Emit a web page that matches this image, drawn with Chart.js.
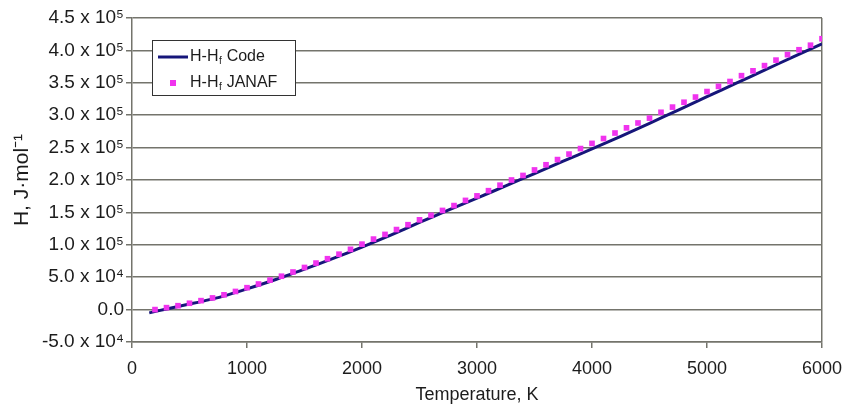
<!DOCTYPE html>
<html>
<head>
<meta charset="utf-8">
<script src="https://cdn.jsdelivr.net/npm/chart.js@4/dist/chart.umd.min.js"></script>
<style>
    html, body { margin: 0; padding: 0; background: #ffffff; }
    #wrap { width: 843px; height: 406px; position: relative; }
</style>
</head>
<body>
<div id="wrap"><canvas id="enthalpyChart" width="843" height="406"></canvas></div>
<script>
// Temperature (K) for the code curve and its enthalpy (J/mol)
const codeTemps = [150, 300, 500, 750, 1000, 1250, 1500, 1750, 2000, 2250, 2500, 2750, 3000,
    3250, 3500, 3750, 4000, 4250, 4500, 4750, 5000, 5250, 5500, 5750, 6000];
const codeH = [-5000, 1000, 8500, 18500, 32000, 46500, 62500, 79000, 96500, 115000, 134500, 153500, 172000,
    191000, 210000, 229000, 248000, 267500, 287500, 308000, 328500, 349000, 369500, 390000, 410000];

// JANAF table points
const janafTemps = [200, 300, 400, 500, 600, 700, 800, 900, 1000, 1100, 1200, 1300, 1400, 1500, 1600, 1700,
    1800, 1900, 2000, 2100, 2200, 2300, 2400, 2500, 2600, 2700, 2800, 2900, 3000, 3100, 3200, 3300, 3400,
    3500, 3600, 3700, 3800, 3900, 4000, 4100, 4200, 4300, 4400, 4500, 4600, 4700, 4800, 4900, 5000, 5100,
    5200, 5300, 5400, 5500, 5600, 5700, 5800, 5900, 6000];
const janafH = [0, 3000, 6000, 9800, 13800, 18000, 22800, 28000, 33800, 39500, 45500, 51500, 58000, 65000,
    71800, 78500, 85500, 93000, 101000, 108800, 116000, 123500, 131000, 138500, 145500, 153000, 160500,
    168500, 175500, 183500, 192000, 200000, 207000, 215500, 223500, 231500, 240000, 248500, 256500, 264000,
    272500, 280500, 288000, 295500, 304500, 312500, 320000, 328000, 336500, 344500, 352000, 361000, 368500,
    376500, 385000, 393500, 401000, 408000, 418000];

// Axis tick labels as printed
const yTickLabels = {
    '-50000': '-5.0 x 10\u2074',
    '0': '0.0',
    '50000': '5.0 x 10\u2074',
    '100000': '1.0 x 10\u2075',
    '150000': '1.5 x 10\u2075',
    '200000': '2.0 x 10\u2075',
    '250000': '2.5 x 10\u2075',
    '300000': '3.0 x 10\u2075',
    '350000': '3.5 x 10\u2075',
    '400000': '4.0 x 10\u2075',
    '450000': '4.5 x 10\u2075',
};
const xTitle = 'Temperature, K';
const yTitle = 'H, J\u00b7mol\u207b\u00b9';
const seriesNames = ['Code', 'JANAF'];

const FONT = "'Liberation Sans', Arial, sans-serif";
const TEXT = '#1c1c1c';
const GRID = '#74746c';
const LINE_COLOR = '#16167a';
const MARK_COLOR = '#f033ee';

const toPoints = (xs, ys) => xs.map((x, i) => ({ x, y: ys[i] }));

// Legend with the subscript f, drawn on the canvas
const legendPlugin = {
    id: 'subscriptLegend',
    afterDatasetsDraw(chart) {
        const ctx = chart.ctx;
        const box = { x: 152.5, y: 40.5, w: 143, h: 55 };
        ctx.save();
        ctx.fillStyle = '#ffffff';
        ctx.fillRect(box.x, box.y, box.w, box.h);
        ctx.strokeStyle = '#333333';
        ctx.lineWidth = 1;
        ctx.strokeRect(box.x, box.y, box.w, box.h);

        const rows = [57, 83];
        ctx.strokeStyle = LINE_COLOR;
        ctx.lineWidth = 3;
        ctx.beginPath();
        ctx.moveTo(158, rows[0]);
        ctx.lineTo(188, rows[0]);
        ctx.stroke();

        ctx.fillStyle = MARK_COLOR;
        ctx.fillRect(170, rows[1] - 3, 6, 6);

        ctx.fillStyle = TEXT;
        ctx.textBaseline = 'middle';
        seriesNames.forEach((name, i) => {
            let x = 190;
            const y = rows[i];
            ctx.font = `16px ${FONT}`;
            ctx.fillText('H-H', x, y);
            x += ctx.measureText('H-H').width;
            ctx.font = `10px ${FONT}`;
            ctx.fillText('f', x + 0.5, y + 4);
            x += ctx.measureText('f').width + 1;
            ctx.font = `16px ${FONT}`;
            ctx.fillText(' ' + name, x, y);
        });
        ctx.restore();
    },
};

new Chart(document.getElementById('enthalpyChart'), {
    type: 'scatter',
    data: {
        datasets: [
            {
                label: 'H-Hf Code',
                data: toPoints(codeTemps, codeH),
                showLine: true,
                borderColor: LINE_COLOR,
                backgroundColor: LINE_COLOR,
                borderWidth: 3,
                pointRadius: 0,
                tension: 0.2,
                order: 2,
            },
            {
                label: 'H-Hf JANAF',
                data: toPoints(janafTemps, janafH),
                showLine: false,
                pointStyle: 'rect',
                pointRadius: 4,
                borderWidth: 0,
                backgroundColor: MARK_COLOR,
                borderColor: MARK_COLOR,
                order: 1,
            },
        ],
    },
    options: {
        responsive: false,
        animation: false,
        layout: { padding: { top: 18, right: 21, left: 0, bottom: 0 } },
        plugins: {
            legend: { display: false },
            tooltip: { enabled: false },
        },
        scales: {
            x: {
                type: 'linear',
                min: 0,
                max: 6000,
                afterFit(scale) {
                    // let the last label run off the edge, as in the original
                    scale.height = 64;
                    scale.paddingLeft = 0;
                    scale.paddingRight = 0;
                },
                ticks: {
                    stepSize: 1000,
                    padding: 10,
                    color: TEXT,
                    font: { family: FONT, size: 18 },
                    maxRotation: 0,
                    callback: (value) => String(value),
                },
                grid: {
                    drawOnChartArea: true,
                    color: (c) => (c.tick && c.tick.value === 6000 ? GRID : 'rgba(0,0,0,0)'),
                    tickColor: GRID,
                    tickLength: 6,
                    lineWidth: 1.5,
                },
                border: { color: GRID, width: 1.5 },
                title: {
                    display: true,
                    text: xTitle,
                    color: TEXT,
                    font: { family: FONT, size: 18 },
                    padding: { top: 0, bottom: 0 },
                },
            },
            y: {
                type: 'linear',
                min: -50000,
                max: 450000,
                afterFit(scale) { scale.width = 132; },
                ticks: {
                    stepSize: 50000,
                    padding: 2,
                    color: TEXT,
                    font: { family: FONT, size: 19 },
                    callback: (value) => yTickLabels[String(value)] ?? '',
                },
                grid: {
                    color: GRID,
                    tickColor: GRID,
                    tickLength: 6,
                    lineWidth: 1.5,
                },
                border: { color: GRID, width: 1.5 },
                title: {
                    display: true,
                    text: yTitle,
                    color: TEXT,
                    font: { family: FONT, size: 21 },
                    padding: { top: 10, bottom: 0 },
                },
            },
        },
    },
    plugins: [legendPlugin],
});
</script>
</body>
</html>
